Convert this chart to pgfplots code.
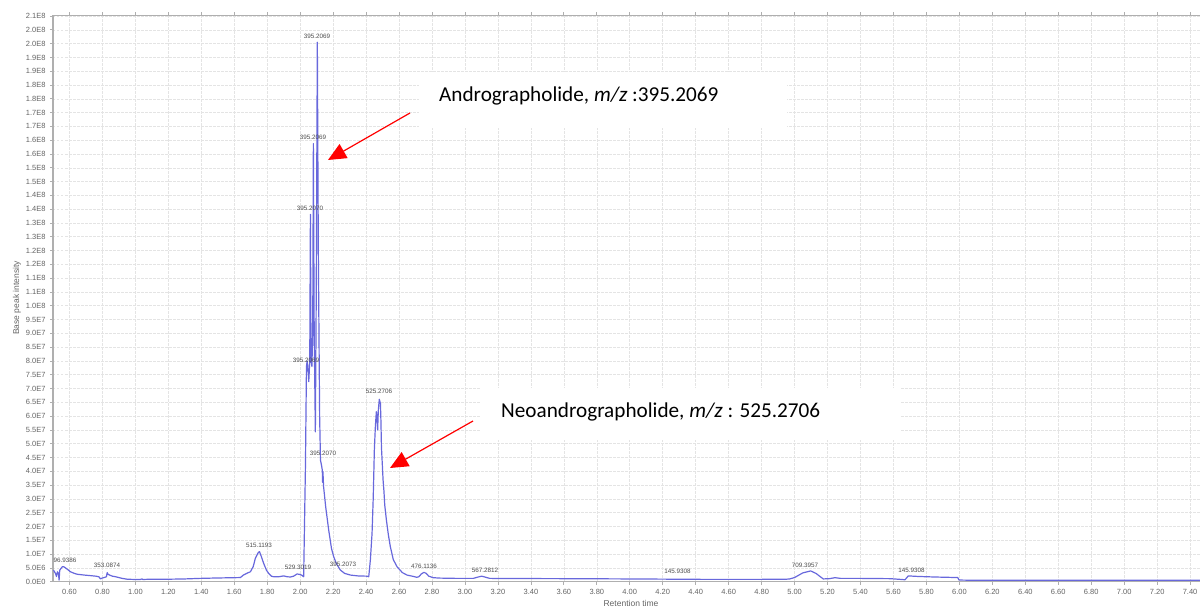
\documentclass[border=0pt]{standalone}
\usepackage{pgfplots}
\pgfplotsset{compat=1.18}
\usepackage{fontspec}
\setmainfont{Liberation Sans}
\newfontfamily\calfont{Carlito}
\usetikzlibrary{arrows.meta}
\definecolor{trace}{RGB}{104,104,220}
\definecolor{gridc}{RGB}{228,228,228}
\definecolor{tickc}{RGB}{100,100,100}
\definecolor{axc}{RGB}{175,175,175}
\begin{document}
\begin{tikzpicture}
\path[use as bounding box] (-53pt,-28.3pt) rectangle (1147pt,581.7pt);
\begin{axis}[
  scale only axis,
  width=1147pt, height=566.2pt,
  xmin=0.5, xmax=7.46, ymin=0, ymax=205.2,
  axis x line*=box, axis y line*=left,
  axis line style={draw=axc, line width=1.4pt},
  xtick={0.6,0.8,1.0,1.2,1.4,1.6,1.8,2.0,2.2,2.4,2.6,2.8,3.0,3.2,3.4,3.6,3.8,4.0,4.2,4.4,4.6,4.8,5.0,5.2,5.4,5.6,5.8,6.0,6.2,6.4,6.6,6.8,7.0,7.2,7.4},
  xticklabels={0.60,0.80,1.00,1.20,1.40,1.60,1.80,2.00,2.20,2.40,2.60,2.80,3.00,3.20,3.40,3.60,3.80,4.00,4.20,4.40,4.60,4.80,5.00,5.20,5.40,5.60,5.80,6.00,6.20,6.40,6.60,6.80,7.00,7.20,7.40},
  ytick={0,5,...,205},
  yticklabels={0.0E0,5.0E6,1.0E7,1.5E7,2.0E7,2.5E7,3.0E7,3.5E7,4.0E7,4.5E7,5.0E7,5.5E7,6.0E7,6.5E7,7.0E7,7.5E7,8.0E7,8.5E7,9.0E7,9.5E7,1.0E8,1.1E8,1.1E8,1.2E8,1.2E8,1.3E8,1.3E8,1.4E8,1.4E8,1.5E8,1.5E8,1.6E8,1.6E8,1.7E8,1.7E8,1.8E8,1.8E8,1.9E8,1.9E8,2.0E8,2.0E8,2.1E8},
  tick align=outside, major tick length=3pt,
  tick style={draw=axc, line width=0.8pt},
  ticklabel style={font=\fontsize{7.5}{8}\selectfont, text=tickc},
  yticklabel style={xshift=-1pt},
  xticklabel style={yshift=-1pt},
  grid=major,
  major grid style={draw=gridc, line width=0.6pt, dash pattern=on 2.5pt off 1.5pt},
]
\addplot[trace, line width=1.2pt, line join=round] table {
0.503 4.2
0.515 3.0
0.521 1.9
0.527 3.6
0.533 3.0
0.537 0.6
0.541 4.2
0.556 5.4
0.566 5.4
0.585 4.6
0.606 3.6
0.630 3.0
0.647 2.7
0.690 2.4
0.727 2.2
0.760 2.0
0.778 1.8
0.788 1.0
0.798 1.3
0.815 1.6
0.824 1.8
0.829 3.3
0.834 2.7
0.840 2.5
0.860 2.0
0.879 1.8
0.92 1.2
0.95 0.9
1.00 0.8
1.03 0.8
1.04 1.0
1.045 0.8
1.09 0.9
1.20 0.9
1.30 1.0
1.39 1.2
1.50 1.35
1.597 1.45
1.637 1.5
1.655 2.4
1.678 3.1
1.698 3.6
1.715 5.5
1.728 8.5
1.745 10.5
1.753 10.9
1.765 9.0
1.778 6.7
1.795 4.2
1.809 3.0
1.825 2.0
1.839 1.8
1.87 1.8
1.90 2.1
1.92 1.8
1.94 1.7
1.96 2.0
1.981 2.8
2.000 2.6
2.011 2.3
2.021 1.8
2.026 20
2.032 42.5
2.038 77.9
2.042 80.0
2.046 78.0
2.052 72.5
2.058 80
2.062 133.1
2.066 80
2.071 78
2.076 90
2.080 158.8
2.085 90
2.092 54.3
2.097 100
2.104 195.5
2.110 120
2.118 60
2.123 44.1
2.130 42
2.134 40.5
2.136 36
2.138 39.9
2.142 34.4
2.155 27
2.173 18.7
2.19 12.0
2.203 9.1
2.22 6.5
2.244 4.2
2.27 3.0
2.305 2.4
2.35 2.1
2.406 2.0
2.416 1.8
2.426 8
2.436 17.5
2.443 30
2.450 47.7
2.456 56
2.462 61.6
2.466 60
2.470 55
2.474 62
2.480 66.1
2.487 64.6
2.490 58
2.493 48.9
2.503 36.8
2.508 33
2.511 30
2.513 27.8
2.523 22.4
2.535 17
2.547 12.7
2.565 8
2.588 5.4
2.62 3.3
2.648 2.4
2.68 2.0
2.707 1.6
2.72 1.8
2.735 2.8
2.751 3.4
2.765 3.0
2.78 2.0
2.807 1.45
2.85 1.3
2.95 1.2
3.05 1.2
3.08 1.7
3.101 2.0
3.12 1.7
3.15 1.2
3.30 1.15
3.60 1.1
4.00 1.0
4.43 0.85
4.80 0.85
4.95 0.9
4.97 1.0
5.00 1.5
5.05 3.2
5.098 3.9
5.13 3.0
5.174 1.0
5.21 1.1
5.245 1.45
5.28 1.2
5.40 1.2
5.58 1.1
5.65 0.8
5.67 0.7
5.69 2.1
5.75 1.9
5.85 1.7
5.99 1.5
5.998 0.6
6.10 0.5
7.46 0.5
};
\begin{scope}[every node/.style={font=\fontsize{6.3}{7}\selectfont, text=black!70, inner sep=0pt}]
\node at (axis cs:0.573,7.9) {96.9386};
\node at (axis cs:0.828,5.9) {353.0874};
\node at (axis cs:1.75,13.3) {515.1193};
\node at (axis cs:1.987,5.3) {529.3019};
\node at (axis cs:2.26,6.2) {395.2073};
\node at (axis cs:2.035,80.3) {395.2069};
\node at (axis cs:2.138,46.6) {395.2070};
\node at (axis cs:2.06,135.3) {395.2070};
\node at (axis cs:2.078,161) {395.2069};
\node at (axis cs:2.102,197.6) {395.2069};
\node at (axis cs:2.478,69) {525.2706};
\node at (axis cs:2.751,5.4) {476.1136};
\node at (axis cs:3.121,4.0) {567.2812};
\node at (axis cs:4.29,3.6) {145.9308};
\node at (axis cs:5.063,6.0) {709.3957};
\node at (axis cs:5.71,4.2) {145.9308};
\end{scope}
\end{axis}
% axis titles
\node[font=\fontsize{8.5}{9}\selectfont, text=tickc, rotate=90] at (-36pt,283.7pt) {Base peak intensity};
\node[font=\fontsize{8.5}{9}\selectfont, text=tickc] at (578pt,-21.3pt) {Retention time};
% annotations
\fill[white] (366pt,453.7pt) rectangle (734pt,509.7pt);
\fill[white] (427pt,141.7pt) rectangle (847pt,193.7pt);
\node[anchor=west, inner sep=0pt, font=\calfont\fontsize{21.2}{25}\selectfont] at (386pt,485.7pt) {Andrographolide, \textit{m/z} :395.2069};
\node[anchor=west, inner sep=0pt, font=\calfont\fontsize{21.2}{25}\selectfont] at (448pt,169.7pt) {Neoandrographolide, \textit{m/z} : 525.2706};
\draw[red, line width=1.2pt, -{Triangle[length=18pt,width=16pt]}] (357pt,468.7pt) -- (275pt,421.7pt);
\draw[red, line width=1.2pt, -{Triangle[length=18pt,width=16pt]}] (420pt,160.7pt) -- (337pt,113.7pt);
\end{tikzpicture}
\end{document}
